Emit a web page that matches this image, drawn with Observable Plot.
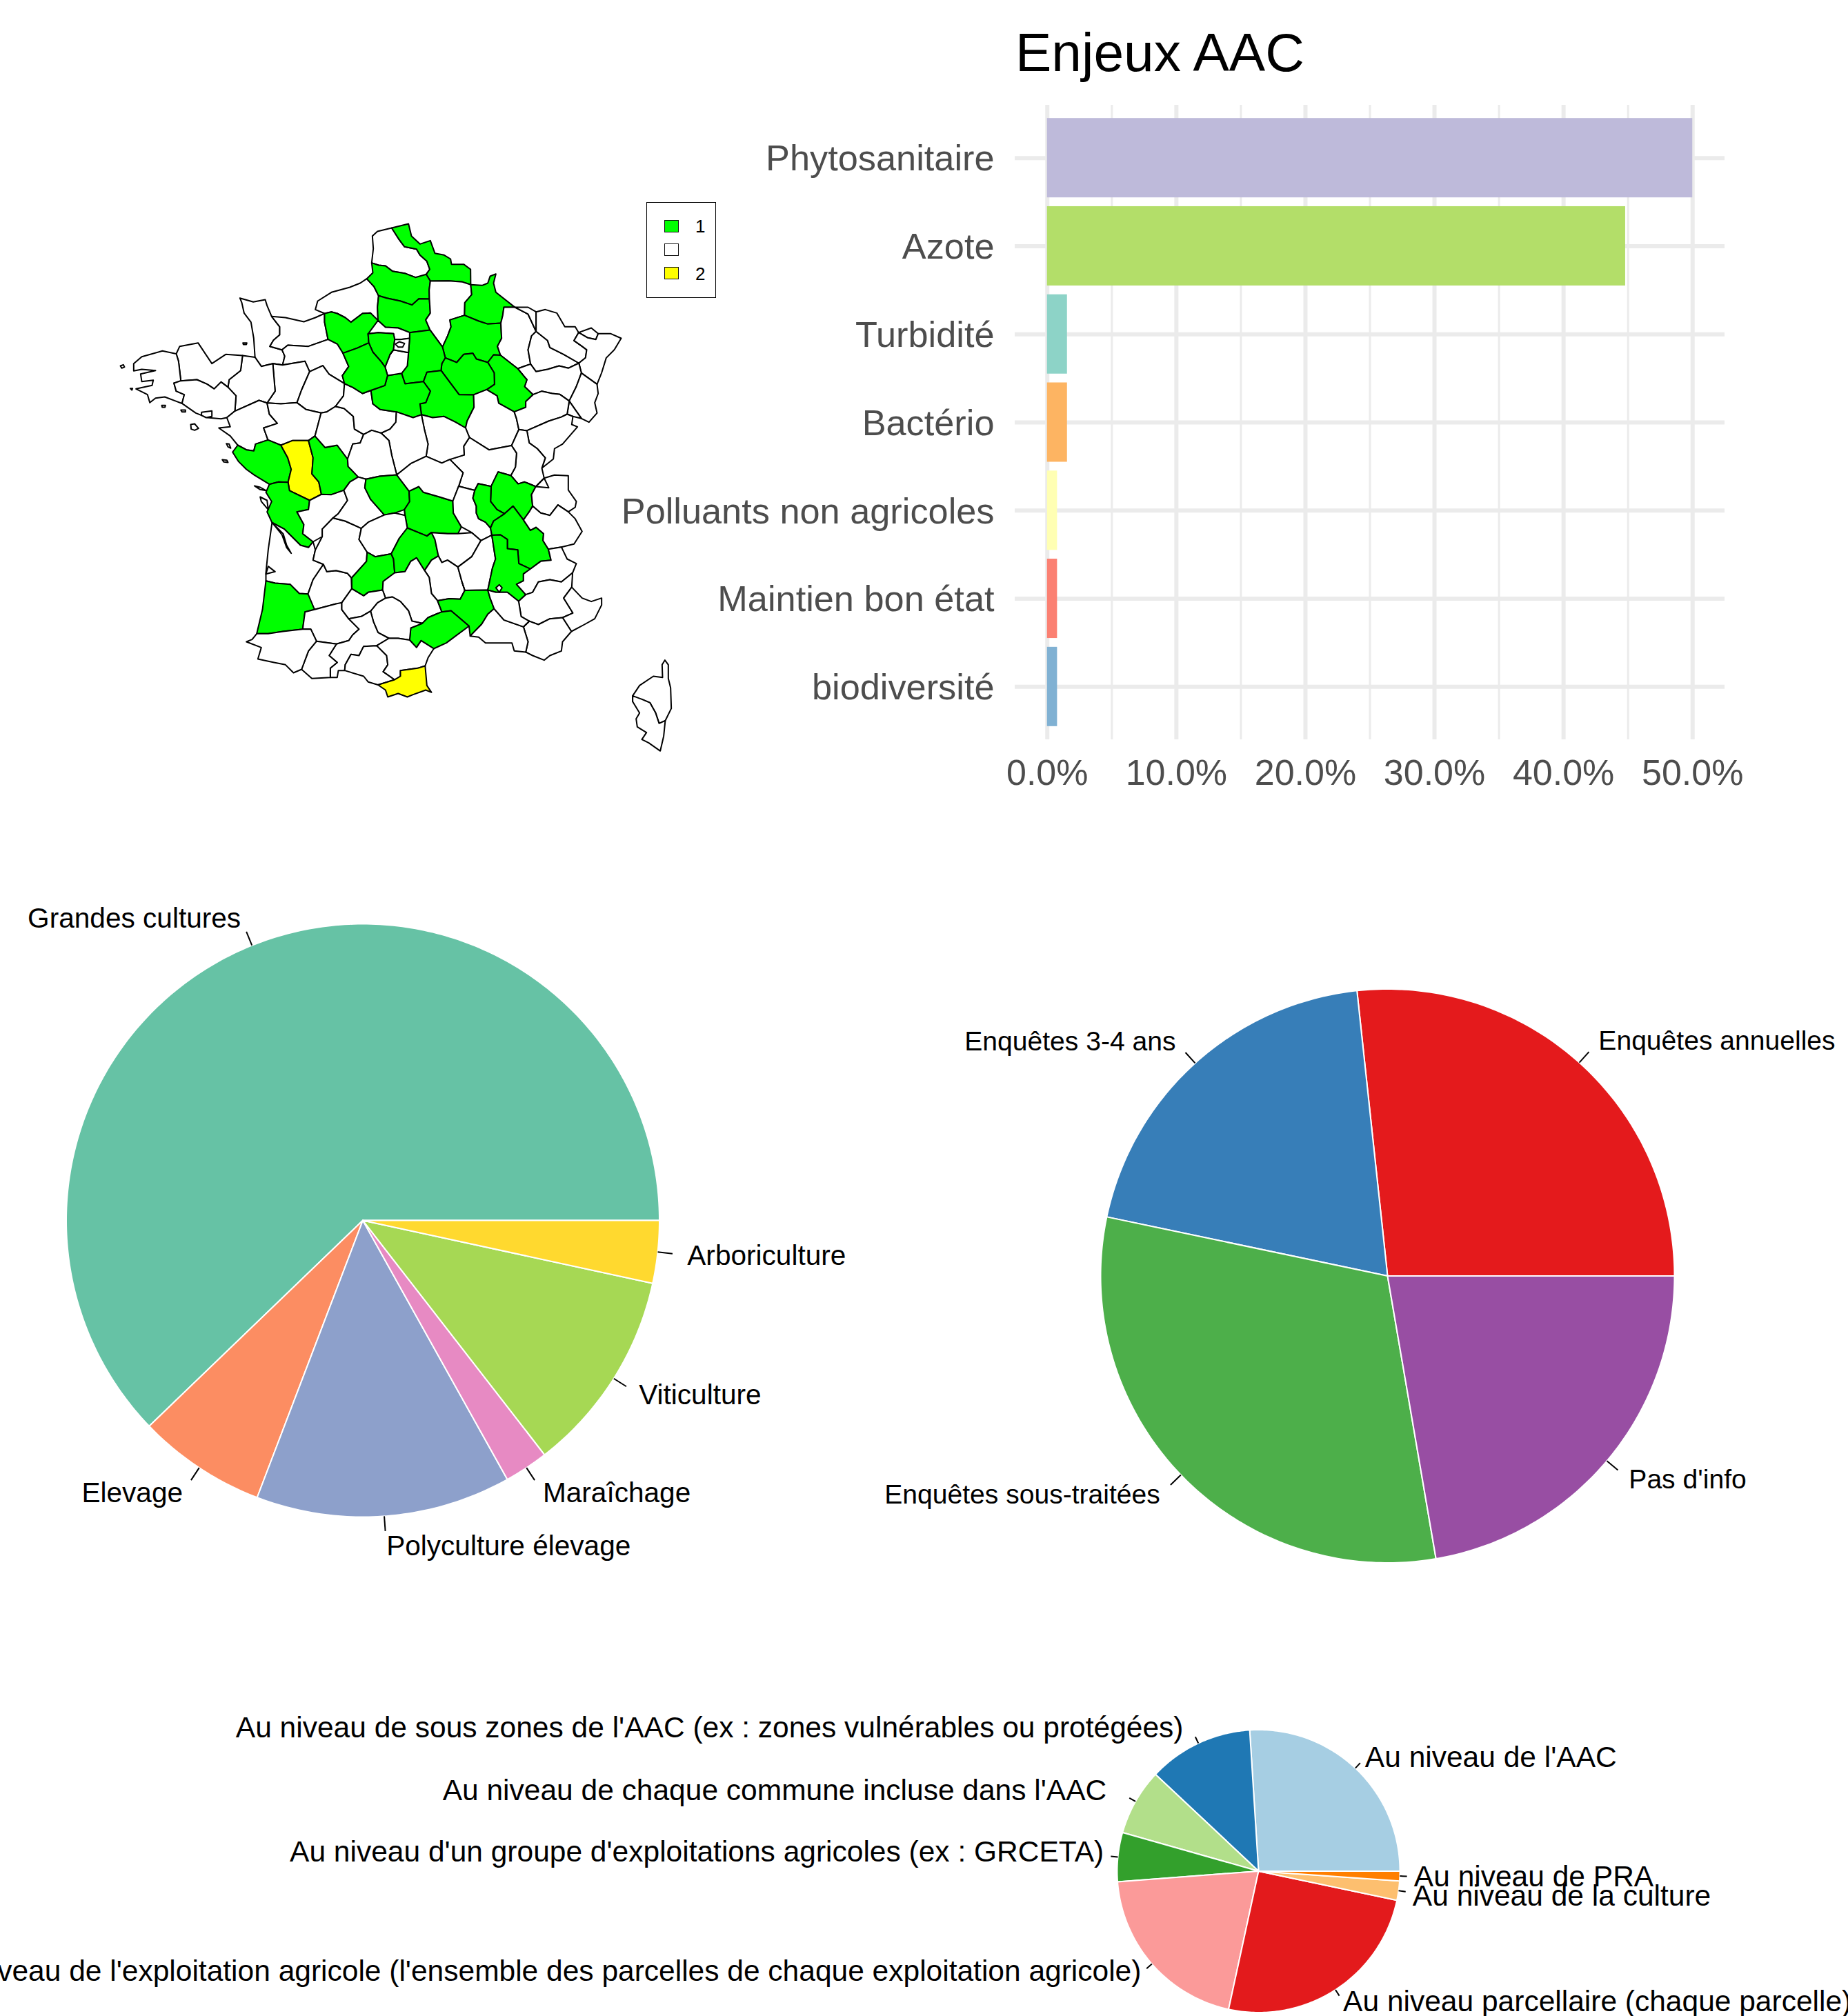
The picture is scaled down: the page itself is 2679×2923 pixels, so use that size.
<!DOCTYPE html>
<html lang="fr">
<head>
<meta charset="utf-8">
<title>Enjeux AAC</title>
<script src="https://cdn.jsdelivr.net/npm/d3@7"></script>
<script src="https://cdn.jsdelivr.net/npm/@observablehq/plot@0.6"></script>
<style>
html,body{margin:0;padding:0;background:#fff;font-family:"Liberation Sans",Arial,sans-serif}
#page{position:relative;width:2679px;height:2923px;overflow:hidden;background:#fff}
#page>svg{position:absolute;display:block}
</style>
</head>
<body>
<div id="page"></div>
<script>
// ---------- Bar chart ----------
const enjeuxLabels = ["Phytosanitaire","Azote","Turbidité","Bactério","Polluants non agricoles","Maintien bon état","biodiversité"];
const enjeuxValues = [50.0,44.8,1.55,1.55,0.78,0.78,0.78];
const enjeuxColors = ["#BEBADA","#B3DE69","#8DD3C7","#FDB462","#FFFFB3","#FB8072","#80B1D3"];
const enjeuxTicks = [0,10,20,30,40,50];
const enjeuxMinor = [5,15,25,35,45];

// ---------- Pies ----------
const systemeLabels = ["Grandes cultures","Elevage","Polyculture élevage","Maraîchage","Viticulture","Arboriculture"];
const systemeValues = [62.2,7.0,13.9,2.4,11.1,3.4];
const systemeColors = ["#66C2A5","#FC8D62","#8DA0CB","#E78AC3","#A6D854","#FFD92F"];

const enqueteLabels = ["Enquêtes annuelles","Enquêtes 3-4 ans","Enquêtes sous-traitées","Pas d'info"];
const enqueteValues = [26.7,20.0,31.0,22.3];
const enqueteColors = ["#E41A1C","#377EB8","#4DAF4A","#984EA3"];

const echelleLabels = ["Au niveau de l'AAC","Au niveau de sous zones de l'AAC (ex : zones vulnérables ou protégées)","Au niveau de chaque commune incluse dans l'AAC","Au niveau d'un groupe d'exploitations agricoles (ex : GRCETA)","Au niveau de l'exploitation agricole (l'ensemble des parcelles de chaque exploitation agricole)","Au niveau parcellaire (chaque parcelle)","Au niveau de la culture","Au niveau de PRA"];
const echelleValues = [26.0,12.0,7.6,5.6,20.4,25.1,2.2,1.1];
const echelleColors = ["#A6CEE3","#1F78B4","#B2DF8A","#33A02C","#FB9A99","#E31A1C","#FDBF6F","#FF7F00"];
const echelleNudgeX = [0,-13,-24,0,0,0,0,0];
const echelleNudgeY = [0,-4,-5,-5,-3,0,5,1];

// ---------- Map: department outlines, on four survey sheets ----------
const sheetOrigins = {NW:[0,0],NE:[960,0],S:[480,900],SE:[1440,900]};
const deptNW = [
["Manche","562,365 620,382 672,372 680,398 700,445 735,490 735,525 708,548 692,575 745,590 757,620 745,650 705,650 655,662 630,625 622,540 610,470 580,430 570,385"],
["Calvados","700,445 760,450 840,468 890,450 930,432 930,470 945,545 860,575 770,570 745,590 692,575 708,548 735,525 735,490"],
["Seine-Maritime","890,415 900,378 960,340 1040,318 1085,300 1112,282 1135,310 1165,350 1160,400 1165,435 1130,430 1095,432 1045,470 1020,450 985,432 960,425 930,432"],
["Eure","930,432 960,425 1020,450 1045,470 1095,432 1165,440 1165,470 1150,515 1118,522 1112,565 1075,580 1015,605 985,565 945,545"],
["Orne","705,650 745,650 757,615 745,590 770,570 860,575 945,545 1005,605 1035,650 1035,690 1005,695 1015,735 960,700 945,695 925,658 870,680 845,640 750,662"],
["Mayenne","705,650 750,662 845,640 870,680 860,690 830,765 810,820 740,825 680,820 715,770"],
["Sarthe","810,820 830,765 860,690 920,660 945,695 1015,735 1010,790 975,840 940,860 915,865 850,850"],
["Ille-et-Vilaine","570,610 580,625 625,620 655,662 705,650 715,770 680,820 645,810 540,850 545,790 510,750 515,720 565,680"],
["Côtes-d'Armor","285,610 300,575 380,560 400,590 440,650 500,610 570,610 565,680 515,720 510,745 480,730 450,760 420,740 375,720 305,725 295,640"],
["Finistère","100,650 135,620 225,595 285,605 295,640 305,725 275,735 285,770 320,785 305,820 235,795 195,800 170,820 160,785 110,760 180,745 185,722 135,728 130,695 195,680 135,675 100,682"],
["Morbihan","275,735 305,725 375,720 420,740 450,760 480,730 510,745 510,770 545,790 540,870 505,885 480,890 420,885 370,865 320,830 305,820 320,785 285,770"],
["Loire-Atlantique","540,850 645,810 680,825 690,870 725,910 665,930 690,970 680,990 625,1000 620,1030 590,1025 550,1005 520,965 470,930 520,925 505,885"],
["Maine-et-Loire","680,820 740,825 810,820 850,850 915,865 890,965 860,985 790,985 740,1005 680,990 690,970 665,930 725,910 690,870"],
["Vendée","530,1035 555,1005 590,1025 625,1030 635,1000 680,990 740,1005 770,1060 785,1110 780,1160 730,1165 690,1170 625,1135 590,1110 555,1075"],
["Deux-Sèvres","740,1005 790,985 860,985 880,1060 875,1130 905,1165 915,1215 865,1245 775,1205 760,1180 785,1160 785,1110 770,1060"],
["Vienne","860,985 885,965 935,1015 985,1005 1030,1065 1035,1095 1075,1140 1020,1190 1010,1215 930,1225 910,1215 905,1165 875,1130 880,1060"],
["Indre-et-Loire","975,845 1015,845 1055,880 1060,935 1100,955 1085,995 1050,1000 1030,1065 985,1005 930,1015 890,965 915,865"],
["Loir-et-Cher","1020,740 1060,762 1100,780 1130,770 1135,825 1165,850 1240,865 1215,935 1180,945 1175,965 1100,960 1060,935 1055,880 1015,845 975,840 985,820 1015,790"]
];
const islandsNW = [
["Ouessant","42,660 55,655 60,665 48,670"],
["Sein","85,758 95,758 92,765"],
["Chausey","575,560 592,560 590,567 577,567"],
["Glénan","222,832 238,832 236,840 224,840"],
["Groix","305,852 325,852 325,860 310,860"],
["Belle-Île","348,915 365,912 382,932 365,940 350,935"],
["Golfe","395,862 440,856 440,880 415,885 395,875"],
["Noirmoutier","503,998 515,1000 522,1018 510,1012"],
["Yeu","485,1068 505,1070 510,1080 492,1078"]
];
const deptNE = [
["Pas-de-Calais","178,95 200,75 262,60 285,105 305,118 318,142 370,152 385,178 415,205 420,235 435,245 412,262 420,285 365,275 322,265 325,248 265,248 235,225 205,222 175,212 182,150"],
["Nord","262,60 335,42 348,95 385,130 430,115 450,170 490,178 518,195 522,218 575,218 605,240 600,305 570,295 510,290 440,295 435,245 420,235 415,205 385,178 370,152 318,142 305,118 285,105"],
["Somme","175,212 205,222 235,225 265,248 325,248 315,272 365,275 420,285 435,295 425,330 425,370 380,368 350,395 300,378 240,365 205,355 195,320 155,280 180,255"],
["Oise","205,360 240,365 300,378 350,395 380,368 428,368 430,430 410,460 430,492 425,510 340,515 290,495 235,492 195,490 210,450 200,410"],
["Aisne","435,295 510,290 570,295 612,310 610,350 580,385 578,440 515,460 520,490 505,530 485,570 430,515 430,492 410,460 430,430 425,370 425,330"],
["Ardennes","605,305 655,310 680,300 690,270 715,260 705,300 715,340 780,385 790,400 750,405 745,440 740,472 680,478 640,465 580,440 580,385 610,350"],
["Marne","515,460 578,440 640,465 680,478 735,475 740,540 722,575 735,610 705,612 680,645 630,630 615,605 575,610 545,645 495,625 480,590 485,570 505,530 520,490"],
["Meuse","750,405 790,400 810,420 855,435 870,530 855,590 860,650 810,672 735,615 722,575 740,540 735,475"],
["Meurthe-et-Moselle","790,398 810,410 855,405 890,425 890,510 940,550 950,580 1010,610 1075,640 1075,655 1030,670 990,660 940,675 890,685 875,655 860,650 855,590 870,530 855,435 810,420"],
["Moselle","890,425 930,415 980,430 1015,490 1060,490 1075,505 1130,495 1160,520 1150,545 1115,538 1075,520 1055,550 1090,575 1110,590 1105,625 1080,645 1010,610 950,580 940,550 890,510"],
["Bas-Rhin","1160,520 1215,520 1260,540 1230,590 1195,625 1175,690 1155,740 1095,695 1075,685 1075,645 1105,625 1110,590 1090,575 1055,550 1075,520 1115,538 1150,545"],
["Vosges","810,672 860,650 875,655 890,685 940,675 990,660 1030,670 1075,655 1075,685 1095,695 1065,750 1040,810 1000,785 960,780 915,770 880,785 850,720"],
["Haut-Rhin","1095,695 1155,740 1160,780 1145,820 1155,865 1120,905 1090,890 1060,850 1040,815 1065,750"],
["Belfort","1020,815 1040,815 1060,850 1085,888 1050,880 1025,870"],
["Haute-Marne","735,615 810,672 850,720 840,750 875,785 845,815 845,840 795,860 735,825 720,790 685,755 710,740 705,690 680,645 705,612"],
["Aube","480,650 495,625 545,645 575,610 615,605 630,630 680,645 710,690 708,740 660,770 610,782 555,785 510,725 480,680"],
["Seine-et-Marne","340,515 430,512 485,570 480,590 495,625 475,680 415,688 400,725 320,738 315,690 330,660 340,600"],
["Yonne","415,688 475,680 510,725 555,785 625,790 620,840 590,900 580,930 540,905 490,880 440,885 390,870 385,825 410,820 430,770 400,730"],
["Loiret","245,700 295,695 320,738 400,730 430,770 410,820 385,825 395,870 355,885 290,855 220,850 185,825 170,770 230,745"],
["Essonne","255,610 330,605 335,600 330,660 315,690 295,695 245,700 235,665"],
["Val-d'Oise","195,490 235,492 290,495 340,515 340,540 300,545 270,520 210,515 160,520"],
["Yvelines","160,520 210,515 275,545 270,590 255,610 235,665 215,640 185,600 175,560"],
["Petite couronne","275,545 300,545 340,540 340,600 330,605 255,610 270,590"],
["Eure-et-Loir","50,605 110,585 160,555 175,600 230,665 242,705 235,745 175,760 130,780 85,745 50,710 75,670 75,640"],
["Côte-d'Or","620,785 680,765 720,820 795,860 815,935 790,1000 685,1025 610,970 590,930 620,840"],
["Haute-Saône","795,860 845,840 875,785 915,770 985,782 1030,808 1025,870 1050,880 1000,885 945,900 850,940 815,935 805,890"],
["Doubs","850,940 945,900 1000,880 1050,880 1045,915 1070,925 1005,1000 970,1020 965,1065 915,1105 930,1060 895,1020 860,995"],
["Jura","780,1010 815,940 850,945 860,995 895,1020 930,1060 915,1105 920,1140 880,1175 815,1175 785,1135 800,1100 805,1040"],
["Saône-et-Loire","600,970 685,1025 780,1010 805,1040 800,1100 785,1135 815,1175 785,1155 730,1120 700,1190 690,1170 640,1175 615,1195 550,1180 575,1120 515,1068 580,1050 575,1010"],
["Nièvre","390,875 440,885 490,880 540,905 580,930 605,965 585,980 575,1045 515,1068 480,1085 420,1055 420,1000 405,940"],
["Cher","270,865 290,855 355,885 390,875 405,940 420,1000 415,1050 345,1085 295,1130 270,1130 260,1050 250,985 215,950 280,905"],
["Indre","215,950 250,985 265,1050 275,1130 115,1145 70,1100 95,1000 140,960 175,940"]
];
const islandsNE = [["Paris","278,565 295,555 318,562 310,578 290,578"]];
const deptS = [
["Charente-Maritime","205,285 215,270 280,265 300,300 385,345 380,385 330,395 360,450 355,490 400,525 380,550 345,540 300,495 275,470 225,440 200,395 220,350 195,310"],
["Charente","385,345 430,320 480,320 530,300 550,345 510,405 480,425 440,470 440,505 400,525 355,490 360,450 330,395 380,385"],
["Gironde","215,445 225,440 275,470 300,495 345,540 380,550 400,525 410,560 400,605 445,620 400,690 385,745 370,750 340,750 300,710 235,705 195,695 195,660 205,560"],
["Landes","195,695 235,705 300,710 340,750 370,750 380,770 420,785 400,830 365,830 355,905 270,915 205,925 155,925 180,820"],
["Lot-et-Garonne","445,630 460,655 500,650 550,665 570,680 565,685 580,720 550,730 525,790 525,820 500,795 410,815 385,745 400,690"],
["Gers","365,830 410,815 500,795 525,820 555,860 600,905 570,930 555,955 500,970 425,960 390,905 355,905"],
["Dordogne","410,560 440,500 490,420 540,435 610,470 600,515 635,570 630,610 570,680 550,660 500,650 460,655 445,620 400,605"],
["Haute-Vienne","535,300 560,265 600,245 630,255 625,290 650,340 710,410 640,440 610,465 540,435 490,420 510,400 550,345"],
["Creuse","630,250 690,240 770,240 815,300 820,350 795,385 800,410 755,400 710,410 650,340 625,290"],
["Allier","820,310 860,285 880,310 950,330 1000,350 1010,400 1045,460 1030,490 985,490 915,485 895,500 810,465 800,385 820,350"],
["Nièvre sud","770,240 825,185 880,155 960,180 995,165 1050,230 1035,285 1020,345 1000,350 950,330 880,310 860,285 820,310 815,300"],
["Loire nord","1035,285 1100,300 1120,270 1095,330 1110,400 1170,465 1175,490 1130,520 1090,485 1045,460 1010,400 1000,350 1020,345"],
["Corrèze","610,465 640,440 710,405 800,410 810,465 775,510 750,570 735,580 670,590 635,570 600,515"],
["Cantal","635,570 670,590 735,580 755,660 705,695 700,735 640,745 620,760 580,735 565,685 635,610"],
["Puy-de-Dôme","810,465 895,500 930,515 945,585 915,605 885,650 850,595 825,610 800,655 755,660 750,600 740,580 775,510"],
["Loire","915,485 985,490 1030,490 1090,485 1130,520 1090,590 1030,635 985,605 960,615 945,585 930,515 895,500"],
["Haute-Loire","945,590 960,615 985,605 1030,635 1050,700 1060,740 1040,775 995,770 945,770 915,750 905,680 885,650 915,605"],
["Ardèche","1130,520 1175,490 1195,610 1155,735 1060,735 1045,700 1030,635 1090,590"],
["Aveyron","755,660 800,655 825,610 850,595 885,650 905,680 915,750 945,770 935,795 960,820 900,855 875,880 830,870 815,825 780,785 745,765 715,770 705,700"],
["Gard","1050,705 1060,735 1160,735 1170,770 1190,810 1160,840 1150,875 1120,890 1090,935 1075,935 1080,885 1010,820 990,830 960,835 940,790 990,775 1040,775"],
["Hérault","825,900 875,880 900,855 935,840 960,835 990,830 1010,820 1080,885 1075,905 1020,935 980,965 925,990 870,955 850,985 815,960"],
["Tarn","650,825 680,790 745,765 780,785 815,825 830,870 875,880 825,900 825,945 770,945 730,945 680,920 660,865"],
["Lot","570,680 565,685 580,735 620,760 705,735 715,770 680,790 650,825 610,850 555,860 525,820 550,735 570,720"],
["Haute-Garonne","555,860 610,850 650,830 665,880 685,920 730,945 680,965 675,985 620,980 600,1020 565,1015 540,1060 535,1085 510,1085 505,1115 475,1115 475,1075 505,1050 470,1020 505,970 555,955 575,930 600,905"],
["Ariège","540,1060 565,1015 600,1020 620,980 675,985 720,1020 725,1060 705,1090 755,1125 685,1140 640,1135 620,1110 540,1085"],
["Aude","680,965 730,945 770,945 825,945 815,960 850,985 870,955 925,990 900,1030 890,1065 855,1075 780,1085 780,1110 755,1125 705,1090 725,1060 720,1020 675,985"],
["Pyrénées-Orientales","680,1155 755,1125 780,1110 780,1085 855,1075 885,1065 895,1150 915,1180 890,1170 835,1190 810,1200 770,1185 725,1200 715,1170"],
["Hautes-Pyrénées","405,950 425,960 500,970 470,1020 505,1050 475,1075 475,1115 395,1120 350,1080 370,1010 395,985"],
["Pyrénées-Atlantiques","155,925 205,925 270,915 355,905 390,905 405,960 385,995 370,1010 350,1080 315,1095 280,1060 230,1050 160,1035 175,985 110,960 135,950"]
];
const islandsS = [
["Oléron","170,330 200,345 205,385 175,350"],
["Ré","145,282 170,288 195,302 170,298"],
["Estuaire","225,445 270,490 285,540 305,575 285,550 265,495"],
["Arcachon","205,632 235,655 195,665"]
];
const deptSE = [
["Ain","240,222 285,222 325,270 360,265 395,280 440,250 420,285 390,320 380,395 355,430 310,370 280,395 240,385 212,350 222,290"],
["Rhône","155,272 205,270 215,300 212,350 240,385 275,395 265,415 225,435 210,465 190,440 160,425 150,370 135,340 155,310"],
["Isère","310,370 355,430 385,475 410,462 445,490 440,520 460,550 450,570 475,605 430,610 385,640 335,620 330,560 285,555 285,515 255,495 220,500 215,465 225,435 265,415 280,395"],
["Drôme","220,505 255,495 285,515 285,555 330,560 335,620 385,645 355,665 355,695 325,710 365,755 330,780 285,745 235,745 200,730 220,640 232,590"],
["Haute-Savoie","390,320 420,300 465,290 455,255 490,235 550,238 550,300 585,350 580,375 550,395 505,365 470,410 430,400 395,370"],
["Savoie","355,430 380,395 395,370 430,400 470,410 505,365 550,395 580,425 610,480 575,535 520,548 480,555 455,545 440,490 410,462 385,475"],
["Hautes-Alpes","385,645 430,610 475,605 455,570 480,555 520,548 545,600 585,620 590,650 555,665 520,700 470,690 420,700 395,745 365,755 325,710 355,695 355,665"],
["Alpes-de-Haute-Provence","365,755 395,745 420,700 470,690 520,700 555,665 575,660 565,720 530,770 570,835 525,855 470,860 420,885 380,870 345,850 340,790 330,780"],
["Alpes-Maritimes","565,725 610,770 650,785 695,770 695,800 665,860 620,885 570,925 555,900 525,855 570,835 530,770"],
["Var","380,870 420,885 470,860 525,855 565,905 565,930 525,960 520,1000 470,1020 445,1040 395,1020 365,1005 375,960 365,900"],
["Bouches-du-Rhône","225,825 270,865 345,890 380,872 365,900 375,960 365,1005 315,1000 305,965 240,965 190,965 160,940 125,935 170,885 200,840"],
["Vaucluse","205,740 235,745 285,745 330,780 340,790 345,850 380,870 345,890 270,865 225,825 230,805"],
["Haute-Corse","970,1040 985,1060 985,1120 995,1160 998,1250 975,1290 970,1310 945,1315 930,1270 905,1225 870,1210 830,1195 860,1150 920,1110 960,1115 958,1060"],
["Corse-du-Sud","830,1195 870,1210 905,1225 930,1270 945,1315 970,1310 965,1370 950,1435 900,1400 870,1385 890,1355 850,1330 845,1295 860,1270 830,1220"]
];
const islandsSE = [["Enclave","235,725 250,712 262,725 250,745"]];
const deptStatus1 = ["Nord","Somme","Oise","Ardennes","Marne","Aube","Haute-Marne","Seine-et-Marne","Yonne","Loiret","Yvelines","Eure-et-Loir","Eure","Vendée","Vienne","Charente-Maritime","Creuse","Allier","Cantal","Puy-de-Dôme","Landes","Gard","Hérault","Ain","Rhône","Isère","Drôme"];
const deptStatus2 = ["Deux-Sèvres","Pyrénées-Orientales"];
const legendLabels = ["1","","2"];
const legendColors = ["#00FF00","#FFFFFF","#FFFF00"];

// ---------- Assembly ----------
const page = document.getElementById("page");
const place = (svg,left,top) => { svg.style.left = left+"px"; svg.style.top = top+"px"; page.appendChild(svg); };
const base = {background:"transparent",fontFamily:"'Liberation Sans',Arial,sans-serif",overflow:"hidden"};

// Map: bring the traced outlines onto one grid, then make neighbours share their borders
const readShapes = (list,sheet) => list.map(([dept,path]) => {
  const [ox,oy] = sheetOrigins[sheet];
  return {dept,pts:path.split(" ").map(p=>{const [a,b]=p.split(",").map(Number);return [a+ox,b+oy];})};
});
const mainland = [...readShapes(deptNW,"NW"),...readShapes(deptNE,"NE"),...readShapes(deptS,"S"),...readShapes(deptSE,"SE")];
const extras = [...readShapes(islandsNW,"NW"),...readShapes(islandsNE,"NE"),...readShapes(islandsS,"S"),...readShapes(islandsSE,"SE")];
function shareBorders(shapes,tol){
  const verts = [];
  shapes.forEach((s,si)=>s.pts.forEach((p,pi)=>verts.push({si,pi,p})));
  const parent = verts.map((_,i)=>i);
  const find = i => parent[i]===i ? i : (parent[i]=find(parent[i]));
  verts.forEach((a,i)=>{ for(let j=i+1;j<verts.length;j++){ const b=verts[j];
    if(a.si!==b.si && Math.hypot(a.p[0]-b.p[0],a.p[1]-b.p[1])<tol) parent[find(j)]=find(i); }});
  const groups = d3.group(verts.map((_,i)=>i),find);
  for(const ids of groups.values()){
    const cx=d3.mean(ids,i=>verts[i].p[0]), cy=d3.mean(ids,i=>verts[i].p[1]);
    ids.forEach(i=>{ shapes[verts[i].si].pts[verts[i].pi]=[cx,cy]; });
  }
  const snapshot = shapes.map(s=>s.pts.slice());
  shapes.forEach((s,si)=>{
    const out=[];
    s.pts.forEach((a,k)=>{
      const b=s.pts[(k+1)%s.pts.length];
      const dx=b[0]-a[0],dy=b[1]-a[1],len2=dx*dx+dy*dy;
      out.push(a);
      if(!len2) return;
      const hits=[];
      snapshot.forEach((o,oi)=>{ if(oi===si) return; o.forEach(q=>{
        const t=((q[0]-a[0])*dx+(q[1]-a[1])*dy)/len2;
        if(t<=0.02||t>=0.98) return;
        if(Math.hypot(q[0]-(a[0]+t*dx),q[1]-(a[1]+t*dy))<tol) hits.push({t,q});
      });});
      hits.sort((u,v)=>u.t-v.t);
      hits.forEach(h=>{ const last=out[out.length-1]; if(last[0]!==h.q[0]||last[1]!==h.q[1]) out.push(h.q); });
    });
    s.pts=out;
  });
}
shareBorders(mainland,24);
const mapRows = [...mainland,...extras].flatMap(s=>{
  const status = deptStatus1.includes(s.dept) ? "1" : deptStatus2.includes(s.dept) ? "2" : "0";
  return s.pts.map(([gx,gy])=>({dept:s.dept,status,gx,gy}));
});
place(Plot.plot({
  width:830,height:800,margin:0,style:base,
  x:{domain:[0,2490],range:[0,830],axis:null},
  y:{domain:[0,2400],range:[0,800],axis:null},
  color:{domain:["1","0","2"],range:["#00FF00","#FFFFFF","#FFFF00"]},
  marks:[Plot.line(mapRows,{x:"gx",y:"gy",z:"dept",fill:"status",stroke:"black",strokeWidth:2,curve:"linear-closed"})]
}),160,310);

// Map legend
const legend = document.createElement("div");
legend.style.cssText = "position:absolute;left:937px;top:293px;width:99px;height:137px;border:1.5px solid #000;background:#fff";
legendLabels.forEach((lab,i)=>{
  const sw = document.createElement("div");
  sw.style.cssText = `position:absolute;left:25px;top:${25+i*34}px;width:19px;height:16px;border:1.5px solid #111;background:${legendColors[i]}`;
  legend.appendChild(sw);
  const t = document.createElement("div");
  t.textContent = lab;
  t.style.cssText = `position:absolute;left:70px;top:${19+i*34.5}px;font-size:26px;line-height:30px;color:#000`;
  legend.appendChild(t);
});
page.appendChild(legend);

// Title
const title = document.createElement("div");
title.textContent = "Enjeux AAC";
title.style.cssText = "position:absolute;left:1472px;top:37px;font-size:78.5px;line-height:78px;color:#000;white-space:nowrap";
page.appendChild(title);

// Bars
const enjeux = enjeuxLabels.map((label,i)=>({label,value:enjeuxValues[i]}));
const pct = d => d.toFixed(1)+"%";
place(Plot.plot({
  width:1799,height:1180,marginLeft:591,marginRight:179,marginTop:152,marginBottom:108,
  style:{...base,fontSize:"52px"},
  x:{domain:[-2.5,52.5],label:null},
  y:{domain:enjeuxLabels,paddingInner:0.1,paddingOuter:0.15,round:false,label:null},
  color:{domain:enjeuxLabels,range:enjeuxColors},
  marks:[
    Plot.ruleX(enjeuxMinor,{stroke:"#EBEBEB",strokeWidth:3}),
    Plot.ruleX(enjeuxTicks,{stroke:"#EBEBEB",strokeWidth:6}),
    Plot.ruleY(enjeuxLabels,{stroke:"#EBEBEB",strokeWidth:6}),
    Plot.barX(enjeux,{x1:0,x2:"value",y:"label",fill:"label"}),
    Plot.axisY({tickSize:0,tickPadding:30,fontSize:52.3,dy:1.5,fill:"#4D4D4D",label:null}),
    Plot.axisX({ticks:enjeuxTicks,tickFormat:pct,tickSize:0,tickPadding:30,fontSize:52,dy:-1,fill:"#4D4D4D",label:null})
  ]
}),880,0);

// Pies
function pie({left,top,width,height,cx,cy,r,labels,values,colors,fontSize,nudgeX,nudgeY,dy=0}) {
  const total = d3.sum(values);
  let cum = 0;
  const slices = labels.map((label,i)=>{
    const a0 = cum/total*2*Math.PI; cum += values[i];
    const a1 = cum/total*2*Math.PI; const mid = (a0+a1)/2;
    return {label,a0,a1,c:Math.cos(mid),s:Math.sin(mid),i};
  });
  const outline = slices.flatMap(d=>{
    const n = Math.max(2,Math.ceil((d.a1-d.a0)/0.015));
    const rows = [{label:d.label,px:0,py:0}];
    for (let k=0;k<=n;k++){ const a=d.a0+(d.a1-d.a0)*k/n; rows.push({label:d.label,px:Math.cos(a),py:Math.sin(a)}); }
    return rows;
  });
  const texts = slices.map(d=>Plot.text([d],{x:d.c*1.1,y:d.s*1.1,text:"label",textAnchor:d.c>=0?"start":"end",fontSize,fill:"black",
    dx:nudgeX?nudgeX[d.i]:0,dy:(nudgeY?nudgeY[d.i]:0)+dy}));
  return place(Plot.plot({
    width,height,margin:0,style:base,
    x:{domain:[-1,1],range:[cx-r,cx+r],axis:null},
    y:{domain:[-1,1],range:[cy+r,cy-r],axis:null},
    color:{domain:labels,range:colors},
    marks:[
      Plot.line(outline,{x:"px",y:"py",z:"label",fill:"label",stroke:"white",strokeWidth:2,curve:"linear-closed"}),
      Plot.link(slices,{x1:"c",y1:"s",x2:d=>1.05*d.c,y2:d=>1.05*d.s,stroke:"black",strokeWidth:2}),
      ...texts
    ]
  }),left,top);
}
pie({left:0,top:1250,width:1340,height:1050,cx:525.5,cy:519,r:430,labels:systemeLabels,values:systemeValues,colors:systemeColors,fontSize:40.6,dy:1});
pie({left:1240,top:1350,width:1439,height:1000,cx:771,cy:499.5,r:416,labels:enqueteLabels,values:enqueteValues,colors:enqueteColors,fontSize:39.1});
pie({left:0,top:2440,width:2679,height:483,cx:1824,cy:272.5,r:205,labels:echelleLabels,values:echelleValues,colors:echelleColors,fontSize:42.5,nudgeX:echelleNudgeX,nudgeY:echelleNudgeY});
</script>
</body>
</html>
